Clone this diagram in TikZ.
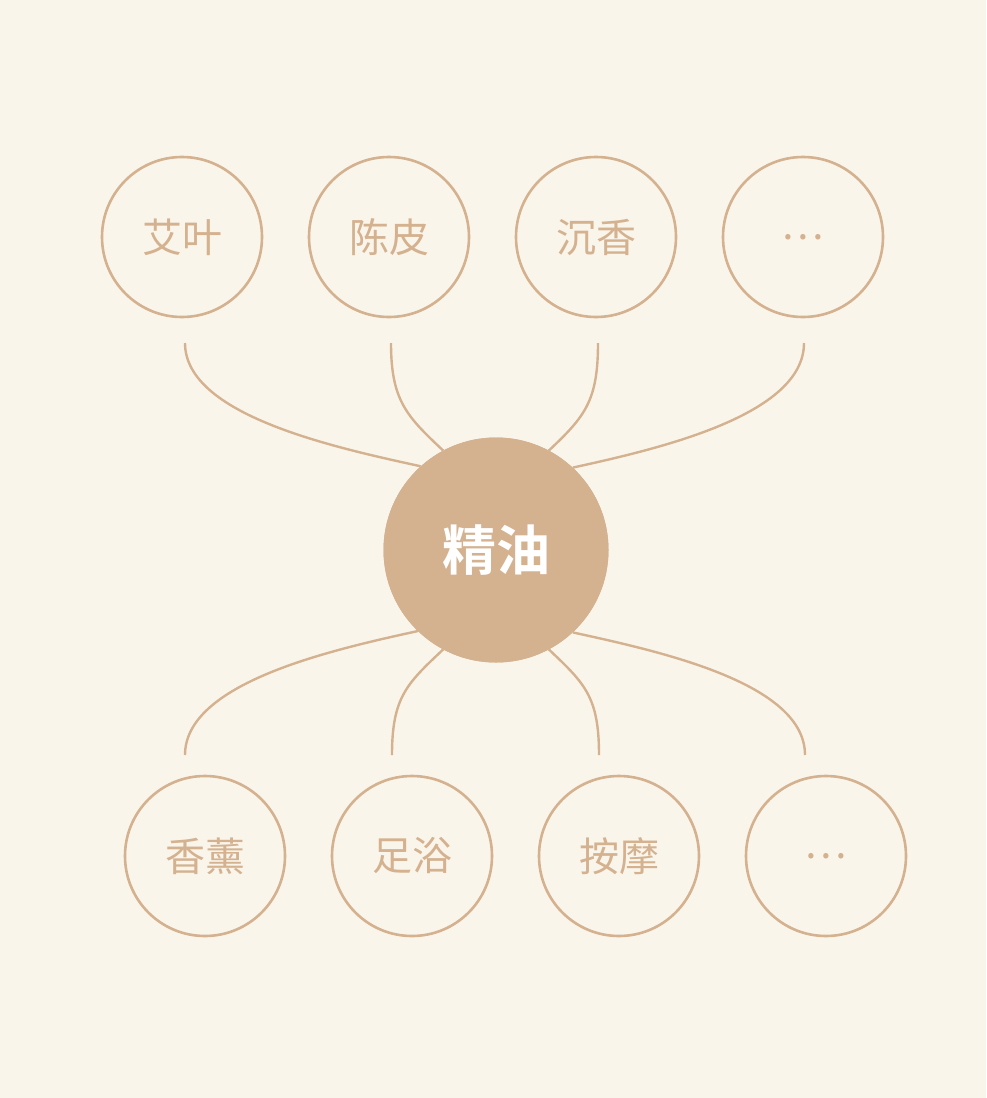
\documentclass[tikz,border=0pt]{standalone}
\usepackage{fontspec}
\newfontfamily\cjk{Noto Sans CJK SC}[BoldFont={Noto Sans CJK SC Bold}]
\definecolor{bgcream}{HTML}{FAF5EB}
\definecolor{tan}{HTML}{D4B18F}

\begin{document}
\begin{tikzpicture}
	[
		x=1pt, y=-1pt,
		leaf/.style = {shape=circle, draw=tan, line width=2.6pt, fill=bgcream, minimum size=160pt, inner sep=0pt, text=tan, font=\cjk\fontsize{40}{40}\selectfont},
		hub/.style = {shape=circle, fill=tan, minimum size=225pt, inner sep=0pt, text=white, font=\cjk\bfseries\fontsize{54}{54}\selectfont},
		link/.style = {draw=tan, line width=2.4pt}
	]
	
	\fill [bgcream] (0,0) rectangle (986,1098);
	
	% top row
	\node [leaf] (aiye) at (182,237) {艾叶};
	\node [leaf] (chenpi) at (389,237) {陈皮};
	\node [leaf] (chenxiang) at (596,237) {沉香};
	\node [leaf] (moretop) at (803,237) {…};
	
	% bottom row
	\node [leaf] (xiangxun) at (205,856) {香薰};
	\node [leaf] (zuyu) at (412,856) {足浴};
	\node [leaf] (anmo) at (619,856) {按摩};
	\node [leaf] (morebot) at (826,856) {…};
	
	\coordinate (t1) at (185,343);
	\coordinate (t2) at (391,343);
	\coordinate (t3) at (598,343);
	\coordinate (t4) at (804,343);
	
	\coordinate (b1) at (185,755);
	\coordinate (b2) at (392,755);
	\coordinate (b3) at (599,755);
	\coordinate (b4) at (805,755);
	
	\node [hub] (oil) at (496,550) {};
	
	\draw [link] (t1) .. controls +(0,72) and +(-87,-19) .. (oil.132.5);
	\draw [link] (t2) .. controls +(0,58) and +(-36,-34) .. (oil.118);
	\draw [link] (t3) .. controls +(0,58) and +(36,-34) .. (oil.62);
	\draw [link] (t4) .. controls +(0,72) and +(87,-19) .. (oil.47.5);
	
	\draw [link] (b1) .. controls +(0,-72) and +(-87,19) .. (oil.226.5);
	\draw [link] (b2) .. controls +(0,-58) and +(-36,34) .. (oil.242);
	\draw [link] (b3) .. controls +(0,-58) and +(36,34) .. (oil.298);
	\draw [link] (b4) .. controls +(0,-72) and +(87,19) .. (oil.313.5);
	
	\node [hub] at (oil) {精油};
	
\end{tikzpicture}
\end{document}
